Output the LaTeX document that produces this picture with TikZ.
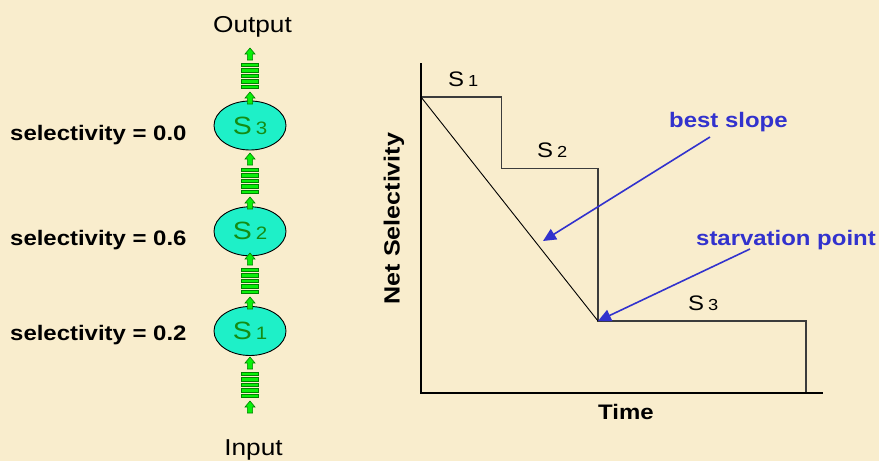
\documentclass[tikz,border=0pt]{standalone}
\usepackage{fontspec}
\setmainfont{Liberation Sans}[FakeStretch=1.14]
\usetikzlibrary{arrows.meta,shapes.geometric}

\definecolor{paper}{RGB}{249,237,205}
\definecolor{stagefill}{RGB}{30,240,200}
\definecolor{stagetext}{RGB}{20,140,20}
\definecolor{gfill}{RGB}{10,240,10}
\definecolor{gline}{RGB}{0,130,0}
\definecolor{callout}{RGB}{50,50,205}
\definecolor{stepgray}{RGB}{60,60,60}

\tikzset{
  lbl/.style={font=\bfseries\fontsize{21}{24}\selectfont, inner sep=0pt, anchor=base west},
  plain/.style={font=\fontsize{23}{26}\selectfont, inner sep=0pt, anchor=base},
  stage/.style={ellipse, draw=black, line width=0.9pt, fill=stagefill,
    minimum width=72pt, minimum height=49pt, inner sep=0pt,
    text=stagetext, font=\fontsize{25}{27}\selectfont},
  calltext/.style={font=\bfseries\fontsize{21}{24}\selectfont, text=callout, inner sep=0pt, anchor=base west},
  callarrow/.style={draw=callout, line width=1.6pt, -{Triangle[length=13pt,width=12pt]}},
  steplabel/.style={font=\fontsize{21}{24}\selectfont, inner sep=0pt, anchor=base west},
  stepline/.style={draw=stepgray, line width=1.4pt},
  axisline/.style={draw=black, line width=2.8pt},
  feedarrow/.pic={
    \filldraw[fill=gfill, draw=gline, line width=0.6pt]
      (0,0) -- (5,6) -- (2.6,6) -- (2.6,12) -- (-2.6,12) -- (-2.6,6) -- (-5,6) -- cycle;
  },
  barstack/.pic={
    \foreach \i in {0,...,4}
      \filldraw[fill=gfill, draw=gline, line width=0.7pt]
        (-8.5,\i*5.5) rectangle (8.5,\i*5.5+3.6);
  },
}

% S with a smaller index digit
\newcommand{\stagename}[2]{S\kern4pt{\fontsize{#2}{#2}\selectfont #1}}

\begin{document}
\begin{tikzpicture}[x=1pt,y=-1pt]
  \fill[paper] (0,0) rectangle (879,461);
  \useasboundingbox (0,0) rectangle (879,461);

  % ---- pipeline of stages ----
  \node[plain] (out) at (252.5,32) {Output};
  \node[plain] (in) at (253.5,455) {Input};

  \node[stage] (s3) at (250,125.5) {\stagename{3}{18}};
  \node[stage] (s2) at (250,231.3) {\stagename{2}{18}};
  \node[stage] (s1) at (250,331)   {\stagename{1}{18}};

  \foreach \t in {48,153,253,357} {
    \pic at (250,\t) {feedarrow};
    \pic at (250,\t+15) {barstack};
    \pic at (250,\t+44) {feedarrow};
  }

  \node[lbl] (sel3) at (10,140)   {selectivity = 0.0};
  \node[lbl] (sel2) at (10,245)   {selectivity = 0.6};
  \node[lbl] (sel1) at (10,340.5) {selectivity = 0.2};

  % ---- selectivity over time ----
  \draw[stepline] (421,97) -- (501.7,97) -- (501.7,168.3) -- (598,168.3)
    -- (598,321) -- (806,321) -- (806,393);
  \draw[black, line width=0.9pt] (421,97) -- (598,321);
  \draw[axisline] (421,63) -- (421,393) -- (823,393);

  \node[steplabel] (l1) at (448,86)  {\stagename{1}{16}};
  \node[steplabel] (l2) at (537,157) {\stagename{2}{16}};
  \node[steplabel] (l3) at (688,310) {\stagename{3}{16}};

  \node[font=\bfseries\fontsize{22}{25}\selectfont, rotate=90, inner sep=0pt] (ylab) at (394,218.5) {Net Selectivity};
  \node[font=\bfseries\fontsize{21}{24}\selectfont, inner sep=0pt, anchor=base west] (xlab) at (598,419) {Time};

  \node[calltext] (best) at (669,127) {best slope};
  \node[calltext] (starve) at (696,245) {starvation point};
  \coordinate (bestfrom) at (710,137);
  \coordinate (bestto) at (543,241);
  \coordinate (starvefrom) at (750,249);
  \coordinate (starveto) at (598,321);
  \draw[callarrow] (bestfrom) -- (bestto);
  \draw[callarrow] (starvefrom) -- (starveto);
\end{tikzpicture}
\end{document}
